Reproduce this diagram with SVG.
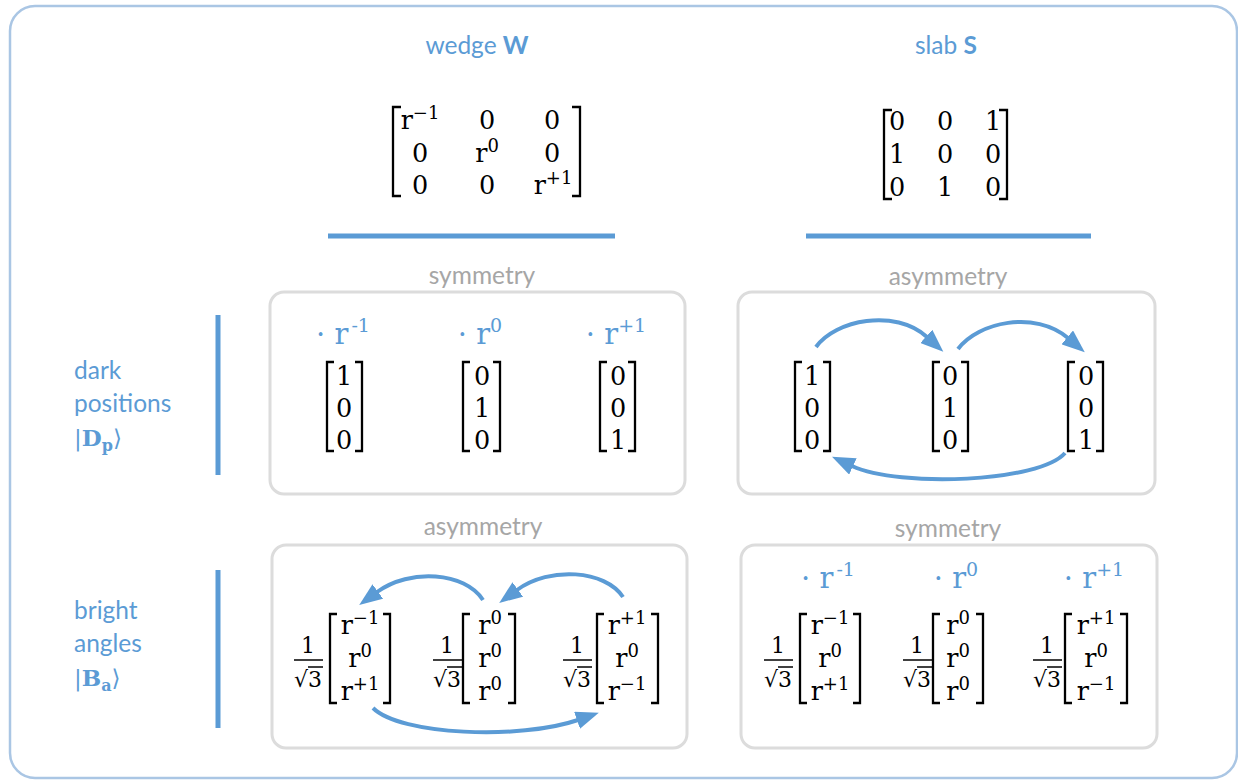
<svg xmlns="http://www.w3.org/2000/svg" width="1238" height="780" viewBox="0 0 1238 780">
<style>
.sans{font-family:Lato,"Liberation Sans",sans-serif;font-size:24.5px}
.blue{fill:#5b9bd5}
.gray{fill:#a6a6a6}
.m{font-family:"DejaVu Serif","Liberation Serif",serif;font-size:25.5px;fill:#000;text-anchor:middle}
.bl{font-family:"DejaVu Serif","Liberation Serif",serif;font-size:29px;fill:#5b9bd5;text-anchor:middle}
.fr{font-family:"DejaVu Serif","Liberation Serif",serif;font-size:22px;fill:#000;text-anchor:middle}
.br{fill:none;stroke:#000;stroke-width:2.3}
.ln{stroke:#000;stroke-width:1.5}
.panel{fill:#fff;stroke:#dcdcdc;stroke-width:3}
.bar{stroke:#5b9bd5;stroke-width:5}
.arr{fill:none;stroke:#5b9bd5;stroke-width:4}
.mid{text-anchor:middle}
</style>
<defs>
<marker id="ah" markerUnits="userSpaceOnUse" viewBox="0 0 23 18" markerWidth="23" markerHeight="18" refX="1" refY="9" orient="auto">
<path d="M0,0 L23,9 L0,18 z" fill="#5b9bd5"/>
</marker>
</defs>
<rect x="10" y="6" width="1227" height="772" rx="25" fill="#fff" stroke="#aac6e4" stroke-width="2.5"/>

<g id="header-wedge">
<text class="sans blue mid" x="477" y="54">wedge <tspan font-weight="bold">W</tspan></text>
<path class="br" d="M401,107 H393 V196 H401"/>
<path class="br" d="M572,107 H580 V196 H572"/>
<text class="m" x="420" y="129">r<tspan font-size="18" dy="-10">−1</tspan></text>
<text class="m" x="487" y="129">0</text>
<text class="m" x="552" y="129">0</text>
<text class="m" x="420" y="162">0</text>
<text class="m" x="487" y="162">r<tspan font-size="18" dy="-10">0</tspan></text>
<text class="m" x="552" y="162">0</text>
<text class="m" x="420" y="194">0</text>
<text class="m" x="487" y="194">0</text>
<text class="m" x="553" y="194">r<tspan font-size="18" dy="-10">+1</tspan></text>
<line class="bar" x1="328" y1="236" x2="615" y2="236"/>
</g>

<g id="header-slab">
<text class="sans blue mid" x="946" y="54">slab <tspan font-weight="bold">S</tspan></text>
<path class="br" d="M892,110 H884 V199 H892"/>
<path class="br" d="M999,110 H1007 V199 H999"/>
<text class="m" x="897" y="130">0</text>
<text class="m" x="945" y="130">0</text>
<text class="m" x="993" y="130">1</text>
<text class="m" x="897" y="163">1</text>
<text class="m" x="945" y="163">0</text>
<text class="m" x="993" y="163">0</text>
<text class="m" x="897" y="196">0</text>
<text class="m" x="945" y="196">1</text>
<text class="m" x="993" y="196">0</text>
<line class="bar" x1="806" y1="236" x2="1091" y2="236"/>
</g>

<g id="row-dark">
<text class="sans blue" x="74" y="379">dark</text>
<text class="sans blue" x="74" y="412">positions</text>
<text x="74" y="446" font-family="'DejaVu Serif','Liberation Serif',serif" font-size="23" fill="#5b9bd5">|<tspan font-weight="bold">D</tspan><tspan font-weight="bold" font-size="16" dy="5">p</tspan><tspan dy="-5">⟩</tspan></text>
<line class="bar" x1="218" y1="315" x2="218" y2="475"/>
</g>

<g id="row-bright">
<text class="sans blue" x="74" y="619">bright</text>
<text class="sans blue" x="74" y="652">angles</text>
<text x="74" y="686" font-family="'DejaVu Serif','Liberation Serif',serif" font-size="23" fill="#5b9bd5">|<tspan font-weight="bold">B</tspan><tspan font-weight="bold" font-size="16" dy="5">a</tspan><tspan dy="-5">⟩</tspan></text>
<line class="bar" x1="218" y1="570" x2="218" y2="728"/>
</g>

<g id="panel-wedge-dark">
<text class="sans gray mid" x="482" y="284">symmetry</text>
<rect class="panel" x="270" y="292" width="415" height="202" rx="14"/>
<text class="bl" x="343" y="344">· r<tspan font-size="19" dy="-12" dx="3">-1</tspan></text>
<text class="bl" x="480" y="344">· r<tspan font-size="19" dy="-12">0</tspan></text>
<text class="bl" x="616" y="344">· r<tspan font-size="19" dy="-12">+1</tspan></text>
<path class="br" d="M334,362 H327 V451 H334"/><path class="br" d="M355,362 H362 V451 H355"/>
<text class="m" x="344" y="385">1</text><text class="m" x="344" y="417">0</text><text class="m" x="344" y="449">0</text>
<path class="br" d="M470,362 H463 V451 H470"/><path class="br" d="M493,362 H500 V451 H493"/>
<text class="m" x="482" y="385">0</text><text class="m" x="482" y="417">1</text><text class="m" x="482" y="449">0</text>
<path class="br" d="M607,362 H600 V451 H607"/><path class="br" d="M628,362 H635 V451 H628"/>
<text class="m" x="618" y="385">0</text><text class="m" x="618" y="417">0</text><text class="m" x="618" y="449">1</text>
</g>

<g id="panel-slab-dark">
<text class="sans gray mid" x="948" y="285">asymmetry</text>
<rect class="panel" x="738" y="292" width="417" height="202" rx="14"/>
<path class="br" d="M802,362 H795 V451 H802"/><path class="br" d="M823,362 H830 V451 H823"/>
<text class="m" x="812" y="385">1</text><text class="m" x="812" y="417">0</text><text class="m" x="812" y="449">0</text>
<path class="br" d="M940,362 H933 V451 H940"/><path class="br" d="M961,362 H968 V451 H961"/>
<text class="m" x="950" y="385">0</text><text class="m" x="950" y="417">1</text><text class="m" x="950" y="449">0</text>
<path class="br" d="M1075,362 H1068 V451 H1075"/><path class="br" d="M1096,362 H1103 V451 H1096"/>
<text class="m" x="1086" y="385">0</text><text class="m" x="1086" y="417">0</text><text class="m" x="1086" y="449">1</text>
</g>

<g id="panel-wedge-bright">
<text class="sans gray mid" x="483" y="535">asymmetry</text>
<rect class="panel" x="272" y="545" width="415" height="203" rx="14"/>
<text class="fr" x="308" y="653">1</text><line class="ln" x1="294" y1="660" x2="323" y2="660"/>
<text class="fr" x="308" y="687">√3</text><line class="ln" x1="308" y1="667" x2="323" y2="667"/>
<path class="br" d="M337,614 H330 V703 H337"/><path class="br" d="M383,614 H390 V703 H383"/>
<text class="m" x="360" y="634">r<tspan font-size="18" dy="-10">−1</tspan></text>
<text class="m" x="360" y="667">r<tspan font-size="18" dy="-10">0</tspan></text>
<text class="m" x="360" y="700">r<tspan font-size="18" dy="-10">+1</tspan></text>
<text class="fr" x="447" y="653">1</text><line class="ln" x1="433" y1="660" x2="462" y2="660"/>
<text class="fr" x="447" y="687">√3</text><line class="ln" x1="447" y1="667" x2="462" y2="667"/>
<path class="br" d="M470,614 H463 V703 H470"/><path class="br" d="M508,614 H515 V703 H508"/>
<text class="m" x="490" y="634">r<tspan font-size="18" dy="-10">0</tspan></text>
<text class="m" x="490" y="667">r<tspan font-size="18" dy="-10">0</tspan></text>
<text class="m" x="490" y="700">r<tspan font-size="18" dy="-10">0</tspan></text>
<text class="fr" x="577" y="653">1</text><line class="ln" x1="563" y1="660" x2="592" y2="660"/>
<text class="fr" x="577" y="687">√3</text><line class="ln" x1="577" y1="667" x2="592" y2="667"/>
<path class="br" d="M604,614 H597 V703 H604"/><path class="br" d="M651,614 H658 V703 H651"/>
<text class="m" x="627" y="634">r<tspan font-size="18" dy="-10">+1</tspan></text>
<text class="m" x="627" y="667">r<tspan font-size="18" dy="-10">0</tspan></text>
<text class="m" x="627" y="700">r<tspan font-size="18" dy="-10">−1</tspan></text>
</g>

<g id="panel-slab-bright">
<text class="sans gray mid" x="948" y="537">symmetry</text>
<rect class="panel" x="741" y="545" width="416" height="203" rx="14"/>
<text class="bl" x="828" y="588">· r<tspan font-size="19" dy="-12" dx="3">-1</tspan></text>
<text class="bl" x="956" y="588">· r<tspan font-size="19" dy="-12">0</tspan></text>
<text class="bl" x="1094" y="588">· r<tspan font-size="19" dy="-12">+1</tspan></text>
<text class="fr" x="778" y="653">1</text><line class="ln" x1="764" y1="660" x2="793" y2="660"/>
<text class="fr" x="778" y="687">√3</text><line class="ln" x1="778" y1="667" x2="793" y2="667"/>
<path class="br" d="M807,614 H800 V703 H807"/><path class="br" d="M853,614 H860 V703 H853"/>
<text class="m" x="830" y="634">r<tspan font-size="18" dy="-10">−1</tspan></text>
<text class="m" x="830" y="667">r<tspan font-size="18" dy="-10">0</tspan></text>
<text class="m" x="830" y="700">r<tspan font-size="18" dy="-10">+1</tspan></text>
<text class="fr" x="917" y="653">1</text><line class="ln" x1="903" y1="660" x2="932" y2="660"/>
<text class="fr" x="917" y="687">√3</text><line class="ln" x1="917" y1="667" x2="932" y2="667"/>
<path class="br" d="M940,614 H933 V703 H940"/><path class="br" d="M976,614 H983 V703 H976"/>
<text class="m" x="958" y="634">r<tspan font-size="18" dy="-10">0</tspan></text>
<text class="m" x="958" y="667">r<tspan font-size="18" dy="-10">0</tspan></text>
<text class="m" x="958" y="700">r<tspan font-size="18" dy="-10">0</tspan></text>
<text class="fr" x="1047" y="653">1</text><line class="ln" x1="1033" y1="660" x2="1062" y2="660"/>
<text class="fr" x="1047" y="687">√3</text><line class="ln" x1="1047" y1="667" x2="1062" y2="667"/>
<path class="br" d="M1072,614 H1065 V703 H1072"/><path class="br" d="M1120,614 H1127 V703 H1120"/>
<text class="m" x="1096" y="634">r<tspan font-size="18" dy="-10">+1</tspan></text>
<text class="m" x="1096" y="667">r<tspan font-size="18" dy="-10">0</tspan></text>
<text class="m" x="1096" y="700">r<tspan font-size="18" dy="-10">−1</tspan></text>
</g>

<g id="connectors">
<path class="arr" marker-end="url(#ah)" d="M816,347 C835,320 895,308 927,337"/>
<path class="arr" marker-end="url(#ah)" d="M958,349 C978,322 1035,310 1068,338"/>
<path class="arr" marker-end="url(#ah)" d="M1065,453 C1040,482 900,488 852,466"/>
<path class="arr" marker-end="url(#ah)" d="M483,600 C465,572 410,568 377,592"/>
<path class="arr" marker-end="url(#ah)" d="M623,597 C605,570 550,566 517,590"/>
<path class="arr" marker-end="url(#ah)" d="M373,708 C400,735 520,740 578,720"/>
</g>
</svg>
